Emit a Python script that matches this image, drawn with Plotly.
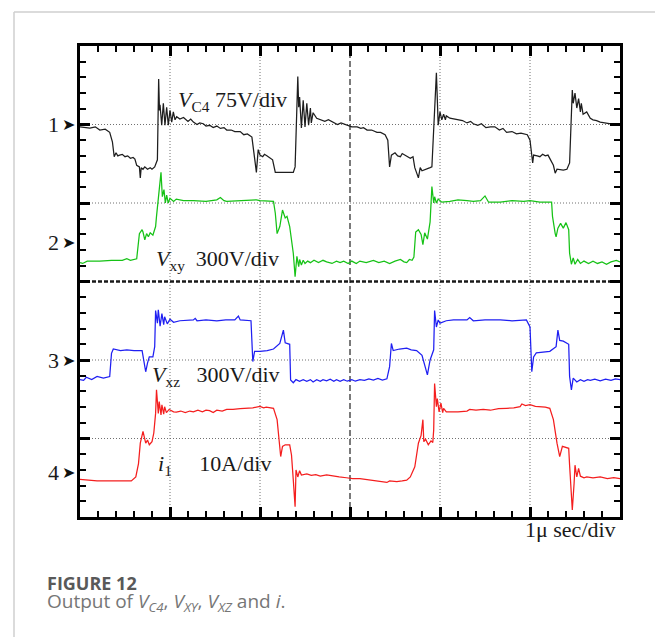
import plotly.graph_objects as go

W, H = 655, 637

# Time base: 1 us per division, 6 divisions on screen.
# Each sample is (time in divisions, amplitude in screen divisions; 0 = bottom graticule line).

# Channel 1: V_C4 (75 V/div)
vc4 = [(0.00, 4.97), (0.06, 4.96), (0.11, 4.955), (0.17, 4.97), (0.22, 4.93), (0.28, 4.94), (0.33, 4.90),
       (0.36, 4.78), (0.37, 4.62), (0.38, 4.59), (0.40, 4.64), (0.42, 4.60), (0.44, 4.61), (0.47, 4.62),
       (0.50, 4.59), (0.53, 4.60), (0.56, 4.57), (0.59, 4.58), (0.61, 4.56), (0.63, 4.48), (0.66, 4.46),
       (0.67, 4.32), (0.68, 4.45), (0.70, 4.43), (0.72, 4.46), (0.75, 4.43), (0.78, 4.45), (0.80, 4.43),
       (0.83, 4.46), (0.86, 4.55), (0.874, 5.58), (0.883, 5.18), (0.889, 5.25), (0.908, 4.99), (0.926, 5.27),
       (0.944, 4.99), (0.963, 5.22), (0.981, 4.99), (1.00, 5.18), (1.019, 5.03), (1.037, 5.16), (1.056, 5.06),
       (1.074, 5.10), (1.11, 5.07), (1.15, 5.09), (1.20, 5.04), (1.23, 5.07), (1.26, 5.03), (1.30, 5.00),
       (1.33, 5.02), (1.37, 5.01), (1.40, 4.98), (1.44, 4.99), (1.48, 4.96), (1.52, 4.98), (1.56, 4.95),
       (1.60, 4.96), (1.63, 4.93), (1.68, 4.93), (1.72, 4.91), (1.78, 4.91), (1.82, 4.87), (1.86, 4.88),
       (1.91, 4.84), (1.93, 4.68), (1.96, 4.39), (1.98, 4.68), (2.00, 4.61), (2.03, 4.59), (2.05, 4.62),
       (2.08, 4.60), (2.11, 4.57), (2.14, 4.55), (2.17, 4.39), (2.22, 4.39), (2.37, 4.39), (2.39, 4.46),
       (2.415, 5.44), (2.42, 5.61), (2.43, 5.22), (2.44, 5.35), (2.46, 4.955), (2.48, 5.31), (2.50, 4.97),
       (2.52, 5.27), (2.54, 4.99), (2.56, 5.21), (2.57, 5.02), (2.59, 5.15), (2.63, 5.08), (2.67, 5.06),
       (2.72, 5.04), (2.76, 5.06), (2.81, 5.03), (2.86, 5.00), (2.90, 5.02), (2.96, 4.99), (3.02, 4.97),
       (3.08, 4.97), (3.12, 4.95), (3.15, 4.96), (3.19, 4.93), (3.24, 4.93), (3.30, 4.90), (3.34, 4.90),
       (3.39, 4.87), (3.42, 4.80), (3.44, 4.46), (3.46, 4.61), (3.50, 4.64), (3.53, 4.60), (3.56, 4.59),
       (3.58, 4.63), (3.61, 4.61), (3.64, 4.58), (3.67, 4.57), (3.70, 4.59), (3.72, 4.45), (3.76, 4.32),
       (3.78, 4.45), (3.80, 4.41), (3.83, 4.42), (3.86, 4.44), (3.89, 4.45), (3.91, 4.46), (3.93, 5.02),
       (3.96, 5.66), (3.98, 4.99), (4.00, 5.16), (4.02, 5.06), (4.04, 5.13), (4.06, 5.06), (4.07, 5.11),
       (4.11, 5.08), (4.15, 5.07), (4.19, 5.06), (4.25, 5.05), (4.30, 5.02), (4.34, 5.04), (4.37, 5.01),
       (4.42, 4.99), (4.46, 5.01), (4.51, 4.96), (4.56, 4.97), (4.61, 4.97), (4.66, 4.93), (4.70, 4.95),
       (4.74, 4.90), (4.80, 4.91), (4.85, 4.88), (4.90, 4.89), (4.97, 4.87), (5.00, 4.80), (5.03, 4.51),
       (5.04, 4.61), (5.08, 4.60), (5.11, 4.59), (5.14, 4.62), (5.17, 4.60), (5.20, 4.61), (5.22, 4.57),
       (5.26, 4.48), (5.28, 4.38), (5.30, 4.43), (5.37, 4.42), (5.41, 4.43), (5.44, 4.51), (5.47, 5.44),
       (5.48, 5.27), (5.50, 5.40), (5.52, 5.21), (5.54, 5.33), (5.56, 5.16), (5.57, 5.27), (5.59, 5.13),
       (5.63, 5.16), (5.67, 5.08), (5.70, 5.06), (5.74, 5.05), (5.78, 5.03), (5.83, 5.02), (5.89, 5.01),
       (5.94, 5.00), (6.00, 4.99)]

# Channel 2: V_xy (300 V/div)
vxy = [(0.00, 3.24), (0.03, 3.23), (0.08, 3.26), (0.22, 3.26), (0.35, 3.27), (0.47, 3.27), (0.52, 3.29),
       (0.56, 3.27), (0.63, 3.29), (0.66, 3.61), (0.69, 3.66), (0.70, 3.63), (0.72, 3.53), (0.74, 3.61),
       (0.76, 3.57), (0.78, 3.62), (0.81, 3.59), (0.84, 3.70), (0.85, 3.83), (0.87, 4.04), (0.89, 4.21),
       (0.90, 4.39), (0.915, 4.08), (0.933, 4.17), (0.948, 4.00), (0.963, 4.10), (0.98, 4.00), (1.00, 4.06),
       (1.04, 4.02), (1.07, 4.05), (1.15, 4.03), (1.26, 4.03), (1.40, 4.02), (1.52, 4.04), (1.56, 4.07),
       (1.60, 4.03), (1.63, 4.02), (1.80, 4.03), (1.96, 4.04), (2.00, 4.03), (2.15, 4.02), (2.17, 3.87),
       (2.19, 3.61), (2.22, 3.70), (2.25, 3.91), (2.28, 3.81), (2.30, 3.83), (2.33, 3.70), (2.37, 3.36),
       (2.39, 3.06), (2.41, 3.32), (2.43, 3.19), (2.44, 3.28), (2.46, 3.21), (2.48, 3.27), (2.50, 3.23),
       (2.53, 3.26), (2.56, 3.24), (2.60, 3.27), (2.65, 3.24), (2.70, 3.27), (2.74, 3.25), (2.80, 3.23),
       (2.85, 3.26), (2.89, 3.24), (2.93, 3.26), (2.98, 3.23), (3.02, 3.26), (3.07, 3.23), (3.11, 3.26),
       (3.18, 3.24), (3.26, 3.27), (3.32, 3.24), (3.38, 3.26), (3.44, 3.23), (3.50, 3.26), (3.56, 3.28),
       (3.60, 3.25), (3.63, 3.24), (3.66, 3.28), (3.69, 3.27), (3.71, 3.31), (3.73, 3.63), (3.76, 3.66),
       (3.79, 3.60), (3.81, 3.47), (3.83, 3.62), (3.86, 3.54), (3.88, 3.70), (3.89, 3.76), (3.91, 4.21),
       (3.93, 4.00), (3.94, 4.08), (3.96, 4.00), (3.98, 4.05), (4.02, 4.01), (4.11, 4.02), (4.20, 4.04),
       (4.30, 4.03), (4.37, 4.02), (4.45, 4.03), (4.50, 4.09), (4.54, 4.01), (4.67, 4.01), (4.80, 4.03),
       (4.93, 4.02), (5.00, 4.03), (5.11, 4.01), (5.24, 4.01), (5.25, 3.83), (5.28, 3.61), (5.29, 3.57),
       (5.31, 3.68), (5.34, 3.74), (5.37, 3.68), (5.40, 3.75), (5.43, 3.66), (5.44, 3.36), (5.46, 3.22),
       (5.48, 3.30), (5.50, 3.22), (5.53, 3.28), (5.56, 3.23), (5.60, 3.26), (5.65, 3.23), (5.70, 3.26),
       (5.75, 3.23), (5.80, 3.25), (5.85, 3.22), (5.90, 3.25), (5.96, 3.27), (6.00, 3.25)]

# Channel 3: V_xz (300 V/div)
vxz = [(0.00, 1.75), (0.04, 1.74), (0.07, 1.78), (0.13, 1.75), (0.19, 1.79), (0.26, 1.77), (0.33, 1.79),
       (0.35, 2.085), (0.37, 2.14), (0.45, 2.12), (0.52, 2.13), (0.60, 2.12), (0.69, 2.12), (0.70, 2.05),
       (0.73, 1.85), (0.75, 1.96), (0.77, 2.04), (0.81, 2.04), (0.83, 2.17), (0.84, 2.63), (0.86, 2.47),
       (0.87, 2.64), (0.89, 2.43), (0.91, 2.59), (0.93, 2.45), (0.94, 2.55), (0.97, 2.46), (1.00, 2.52),
       (1.04, 2.48), (1.11, 2.50), (1.26, 2.51), (1.28, 2.53), (1.30, 2.50), (1.40, 2.51), (1.52, 2.50),
       (1.62, 2.51), (1.72, 2.51), (1.76, 2.56), (1.78, 2.51), (1.90, 2.50), (1.91, 2.25), (1.92, 1.98),
       (1.94, 2.11), (2.00, 2.11), (2.08, 2.12), (2.15, 2.14), (2.22, 2.21), (2.26, 2.38), (2.28, 2.22),
       (2.31, 2.21), (2.33, 2.20), (2.34, 1.745), (2.37, 1.71), (2.40, 1.75), (2.44, 1.73), (2.48, 1.75),
       (2.52, 1.73), (2.56, 1.75), (2.59, 1.72), (2.63, 1.75), (2.67, 1.73), (2.70, 1.75), (2.74, 1.735),
       (2.78, 1.755), (2.82, 1.73), (2.85, 1.75), (2.89, 1.73), (2.93, 1.75), (2.97, 1.73), (3.02, 1.75),
       (3.06, 1.73), (3.11, 1.75), (3.16, 1.74), (3.21, 1.76), (3.26, 1.745), (3.31, 1.765), (3.36, 1.745),
       (3.41, 1.76), (3.44, 1.915), (3.46, 2.21), (3.48, 2.12), (3.55, 2.14), (3.63, 2.15), (3.68, 2.13),
       (3.74, 2.12), (3.80, 2.06), (3.83, 1.94), (3.86, 1.81), (3.89, 2.00), (3.93, 2.13), (3.94, 2.63),
       (3.96, 2.42), (3.98, 2.51), (4.00, 2.47), (4.07, 2.50), (4.15, 2.51), (4.30, 2.51), (4.33, 2.54),
       (4.37, 2.50), (4.50, 2.51), (4.67, 2.51), (4.80, 2.50), (4.96, 2.51), (5.00, 2.42), (5.02, 1.85),
       (5.04, 2.04), (5.07, 2.09), (5.15, 2.10), (5.22, 2.11), (5.29, 2.17), (5.31, 2.38), (5.33, 2.25),
       (5.37, 2.24), (5.43, 2.20), (5.44, 1.79), (5.46, 1.62), (5.48, 1.77), (5.52, 1.72), (5.56, 1.75),
       (5.60, 1.73), (5.64, 1.75), (5.67, 1.74), (5.72, 1.755), (5.78, 1.735), (5.84, 1.755), (5.90, 1.74),
       (5.95, 1.76), (6.00, 1.75)]

# Channel 4: i_1 (10 A/div)
i1 = [(0.00, 0.48), (0.11, 0.47), (0.19, 0.46), (0.40, 0.46), (0.57, 0.46), (0.62, 0.51), (0.65, 0.68),
      (0.67, 0.94), (0.70, 1.09), (0.73, 0.94), (0.75, 0.98), (0.77, 0.92), (0.80, 0.96), (0.82, 1.07),
      (0.84, 1.32), (0.85, 1.62), (0.87, 1.32), (0.88, 1.47), (0.90, 1.30), (0.91, 1.43), (0.93, 1.31),
      (0.94, 1.405), (0.96, 1.33), (0.99, 1.37), (1.04, 1.34), (1.07, 1.335), (1.12, 1.35), (1.17, 1.33),
      (1.22, 1.35), (1.26, 1.34), (1.31, 1.36), (1.36, 1.34), (1.40, 1.36), (1.44, 1.355), (1.48, 1.33),
      (1.52, 1.36), (1.58, 1.35), (1.63, 1.37), (1.70, 1.37), (1.78, 1.38), (1.85, 1.385), (1.92, 1.39),
      (2.00, 1.41), (2.04, 1.39), (2.07, 1.40), (2.15, 1.385), (2.19, 1.24), (2.21, 0.96), (2.23, 0.77),
      (2.25, 0.90), (2.28, 0.92), (2.33, 0.92), (2.35, 0.79), (2.37, 0.47), (2.39, 0.13), (2.40, 0.60),
      (2.42, 0.51), (2.44, 0.59), (2.46, 0.535), (2.52, 0.55), (2.57, 0.53), (2.62, 0.54), (2.67, 0.52),
      (2.74, 0.535), (2.81, 0.52), (2.88, 0.51), (2.96, 0.50), (3.03, 0.49), (3.11, 0.49), (3.18, 0.48),
      (3.26, 0.47), (3.33, 0.46), (3.41, 0.44), (3.44, 0.46), (3.52, 0.45), (3.58, 0.46), (3.63, 0.47),
      (3.67, 0.51), (3.72, 0.64), (3.76, 0.94), (3.79, 1.04), (3.81, 1.24), (3.82, 0.96), (3.84, 0.99),
      (3.87, 0.92), (3.90, 0.97), (3.92, 0.95), (3.93, 1.11), (3.94, 1.70), (3.96, 1.405), (3.97, 1.51),
      (3.99, 1.34), (4.01, 1.45), (4.03, 1.33), (4.04, 1.385), (4.07, 1.34), (4.20, 1.34), (4.30, 1.35),
      (4.33, 1.37), (4.40, 1.36), (4.48, 1.37), (4.56, 1.36), (4.65, 1.38), (4.74, 1.385), (4.82, 1.39),
      (4.89, 1.405), (4.91, 1.44), (4.95, 1.42), (5.00, 1.43), (5.06, 1.41), (5.11, 1.405), (5.17, 1.40),
      (5.22, 1.385), (5.26, 1.24), (5.30, 0.94), (5.33, 0.77), (5.36, 0.90), (5.43, 0.875), (5.44, 0.66),
      (5.47, 0.09), (5.49, 0.43), (5.50, 0.66), (5.52, 0.51), (5.54, 0.62), (5.56, 0.52), (5.60, 0.50),
      (5.63, 0.51), (5.70, 0.50), (5.78, 0.51), (5.86, 0.49), (5.93, 0.50), (6.00, 0.49)]

trace_colors = ["#1e1e1e", "#16c216", "#1f1ff2", "#f41e1e"]

# Channel reference markers (screen divisions)
channel_ids = ["1", "2", "3", "4"]
channel_refs = [5.0, 3.5, 2.0, 0.57]

grid_lines = [1, 2, 4, 5]
centre_line = 3
n_div = 6

serif = "Liberation Serif"

fig = go.Figure()
for samples, col in zip([vc4, vxy, vxz, i1], trace_colors):
    tt = [s[0] for s in samples]
    vv = [s[1] for s in samples]
    fig.add_trace(go.Scatter(x=tt, y=vv, mode="lines", line=dict(color=col, width=1.25),
                             hoverinfo="skip", showlegend=False))

# graticule
shapes = []
for g in grid_lines:
    shapes.append(dict(type="line", xref="x", yref="y", x0=g, x1=g, y0=0, y1=n_div, layer="below",
                       line=dict(color="#707070", width=1, dash="1px,2px")))
    shapes.append(dict(type="line", xref="x", yref="y", x0=0, x1=n_div, y0=g, y1=g, layer="below",
                       line=dict(color="#707070", width=1, dash="1px,2px")))
shapes.append(dict(type="line", xref="x", yref="y", x0=centre_line, x1=centre_line, y0=0, y1=n_div,
                   layer="below", line=dict(color="#333333", width=1.3, dash="6px,3px")))
shapes.append(dict(type="line", xref="x", yref="y", x0=0, x1=n_div, y0=centre_line, y1=centre_line,
                   layer="below", line=dict(color="#1a1a1a", width=2.6, dash="4px,2px")))

# page rules
shapes.append(dict(type="line", xref="paper", yref="paper", x0=14 / W, x1=14 / W, y0=0, y1=1 - 12 / H,
                   line=dict(color="#cfcfcf", width=1.5)))
shapes.append(dict(type="line", xref="paper", yref="paper", x0=14 / W, x1=1, y0=1 - 12 / H, y1=1 - 12 / H,
                   line=dict(color="#cfcfcf", width=1.5)))

annotations = []
for cid, ref in zip(channel_ids, channel_refs):
    annotations.append(dict(text=cid, xref="paper", yref="y", x=53 / W, y=ref, xanchor="center",
                            yanchor="middle", showarrow=False,
                            font=dict(family=serif, size=22, color="#1a1a1a")))
    annotations.append(dict(text="\u27a4", xref="paper", yref="y", x=68 / W, y=ref, xanchor="center",
                            yanchor="middle", showarrow=False,
                            font=dict(family="DejaVu Sans", size=16, color="#111111")))

labels = [
    ("<i>V</i><sub>C4</sub> 75V/div", 176, 101),
    ("<i>V</i><sub>xy</sub>\u00a0\u00a0300V/div", 154, 260),
    ("<i>V</i><sub>xz</sub>\u00a0\u00a0\u00a0300V/div", 150, 376),
    ("<i>i</i><sub>1</sub>\u00a0\u00a0\u00a0\u00a0 10A/div", 156, 465),
]
for txt, px, py in labels:
    annotations.append(dict(text=txt, xref="paper", yref="paper",
                            x=px / W, y=1 - py / H, xanchor="left", yanchor="middle", showarrow=False,
                            font=dict(family=serif, size=22, color="#1a1a1a")))

annotations.append(dict(text="1\u03bc sec/div", xref="paper", yref="paper", x=618 / W, y=1 - 529 / H,
                        xanchor="right", yanchor="middle", showarrow=False,
                        font=dict(family=serif, size=22, color="#1a1a1a")))

# caption block: tight line pitch comes from the small base size, glyph size from the spans
caption = ('<span style="font-size:18px;fill:#595959"><b>FIGURE 12</b></span><br>'
           '<span style="font-size:19px;fill:#767676">Output of <i>V</i><sub><i>C4</i></sub>, '
           '<i>V</i><sub><i>XY</i></sub>, <i>V</i><sub><i>XZ</i></sub> and <i>i</i>.</span>')
annotations.append(dict(text=caption, xref="paper", yref="paper", x=45 / W, y=1 - 593 / H,
                        xanchor="left", yanchor="middle", align="left", showarrow=False,
                        font=dict(family="Open Sans", size=14, color="#6a6a6a")))

axis_common = dict(
    range=[0, n_div], showgrid=False, zeroline=False, showticklabels=False,
    showline=True, linecolor="black", linewidth=3, mirror="ticks",
    ticks="inside", tick0=0, dtick=1, ticklen=10, tickwidth=2.6, tickcolor="black",
    minor=dict(ticks="inside", tick0=0, dtick=0.2, ticklen=6, tickwidth=1.6, tickcolor="black",
               showgrid=False),
    fixedrange=True,
)

fig.update_layout(
    width=W, height=H,
    margin=dict(l=0, r=0, t=0, b=0),
    paper_bgcolor="white", plot_bgcolor="white",
    xaxis=dict(domain=[80 / W, 620 / W], **axis_common),
    yaxis=dict(domain=[1 - 517 / H, 1 - 46 / H], **axis_common),
    shapes=shapes,
    annotations=annotations,
    showlegend=False,
)

fig.write_html("out.html")
